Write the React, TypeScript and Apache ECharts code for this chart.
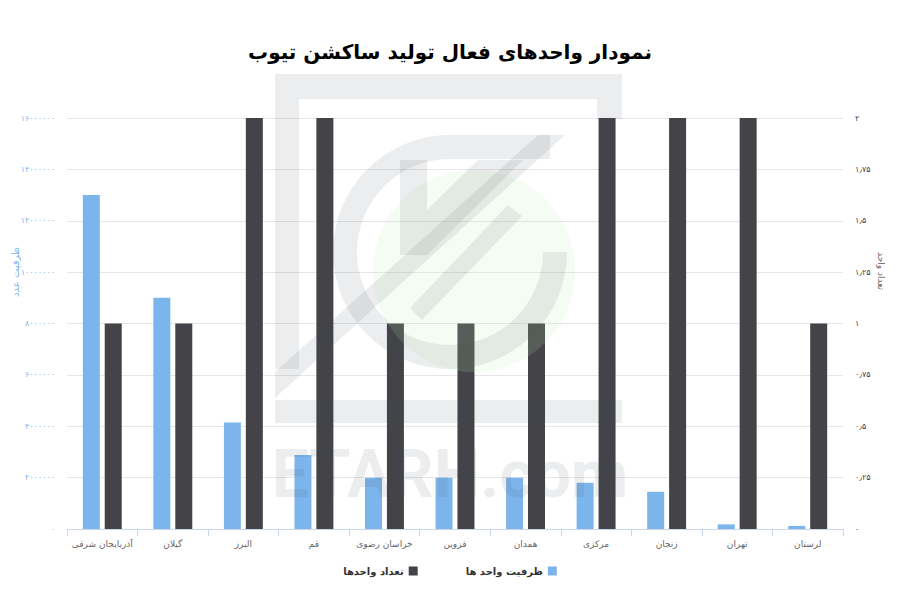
import React, { useEffect, useRef } from "react";
import * as echarts from "echarts";

const categories = [
  "آذربایجان شرقی",
  "گیلان",
  "البرز",
  "قم",
  "خراسان رضوی",
  "قزوین",
  "همدان",
  "مرکزی",
  "زنجان",
  "تهران",
  "لرستان",
];
const capacity = [13000000, 9000000, 4150000, 2880000, 2000000, 2000000, 2000000, 1800000, 1450000, 180000, 120000];
const unitCount = [1, 1, 2, 2, 1, 1, 1, 2, 2, 2, 1];
const seriesNames = ["ظرفیت واحد ها", "تعداد واحدها"];
const titleText = "نمودار واحد\u200cهای فعال تولید ساکشن تیوب";
const leftAxisTitle = "ظرفیت عدد";
const rightAxisTitle = "تعداد واحد";
const watermarkText = "ETARH.com";

const FA_DIGITS = "۰۱۲۳۴۵۶۷۸۹";
const toFa = (v: number) =>
  String(v)
    .replace(/[0-9]/g, (d) => FA_DIGITS[Number(d)])
    .replace(".", "٫");

const FONT = "DejaVu Sans, Noto Sans, sans-serif";
const BLUE = "#7cb5ec";
const DARK = "#434348";
const WM = "rgba(70,75,90,0.10)";

export default function App() {
  const ref = useRef<HTMLDivElement>(null);
  useEffect(() => {
    if (!ref.current) return;
    const chart = echarts.init(ref.current, undefined, { renderer: "svg" });
    const option: any = {
      animation: false,
      backgroundColor: "#ffffff",
      textStyle: { fontFamily: FONT },
      title: {
        text: titleText,
        left: "center",
        top: 37,
        textStyle: { fontFamily: FONT, fontSize: 20, fontWeight: "bold", color: "#000" },
      },
      legend: {
        data: [seriesNames[1], seriesNames[0]],
        bottom: 19,
        left: "center",
        align: "right",
        icon: "rect",
        itemWidth: 9,
        itemHeight: 9,
        itemGap: 48,
        textStyle: { fontFamily: FONT, fontSize: 10, fontWeight: "bold", color: "#333" },
      },
      grid: { left: 67, right: 57, top: 118, bottom: 71, containLabel: false },
      xAxis: {
        type: "category",
        data: categories,
        axisLine: { lineStyle: { color: "#ccd6eb" } },
        axisTick: { show: true, length: 7, lineStyle: { color: "#ccd6eb" } },
        axisLabel: { color: "#666", fontSize: 9, margin: 10, fontFamily: FONT, interval: 0 },
      },
      yAxis: [
        {
          type: "value",
          min: 0,
          max: 16000000,
          interval: 2000000,
          axisLine: { show: false },
          axisTick: { show: false },
          splitLine: { lineStyle: { color: "#e6e6e6" } },
          axisLabel: { color: BLUE, fontSize: 8, margin: 12, fontFamily: FONT, formatter: (v: number) => toFa(v) },
        },
        {
          type: "value",
          min: 0,
          max: 2,
          interval: 0.25,
          position: "right",
          axisLine: { show: false },
          axisTick: { show: false },
          splitLine: { show: false },
          axisLabel: { color: DARK, fontSize: 8, margin: 12, fontFamily: FONT, formatter: (v: number) => toFa(v) },
        },
      ],
      series: [
        {
          name: seriesNames[0],
          type: "bar",
          yAxisIndex: 0,
          data: capacity,
          barWidth: 17,
          barGap: "29%",
          itemStyle: { color: BLUE },
        },
        {
          name: seriesNames[1],
          type: "bar",
          yAxisIndex: 1,
          data: unitCount,
          barWidth: 17,
          barGap: "29%",
          itemStyle: { color: DARK },
        },
      ],
      graphic: [
        {
          type: "text",
          x: 15,
          y: 272,
          rotation: Math.PI / 2,
          style: { text: leftAxisTitle, fill: BLUE, font: `10px ${FONT}`, textAlign: "center", textVerticalAlign: "middle" },
        },
        {
          type: "text",
          x: 881,
          y: 271,
          rotation: -Math.PI / 2,
          style: { text: rightAxisTitle, fill: "#666", font: `9px ${FONT}`, textAlign: "center", textVerticalAlign: "middle" },
        },
        // watermark
        { type: "circle", z: 100, silent: true, shape: { cx: 474, cy: 271, r: 101 }, style: { fill: "rgba(190,235,180,0.16)" } },
        { type: "rect", z: 100, silent: true, shape: { x: 275, y: 74, width: 347, height: 25 }, style: { fill: WM } },
        { type: "rect", z: 100, silent: true, shape: { x: 275, y: 99, width: 24, height: 270 }, style: { fill: WM } },
        { type: "rect", z: 100, silent: true, shape: { x: 597, y: 99, width: 25, height: 20 }, style: { fill: WM } },
        { type: "rect", z: 100, silent: true, shape: { x: 275, y: 400, width: 347, height: 23 }, style: { fill: WM } },
        {
          type: "polygon",
          z: 100,
          silent: true,
          shape: { points: [[275, 372], [538, 135], [565, 135], [275, 398]] },
          style: { fill: WM },
        },
        {
          type: "sector",
          z: 100,
          silent: true,
          shape: { cx: 450, cy: 252, r0: 93, r: 117, startAngle: 0, endAngle: Math.PI * 1.5, clockwise: true },
          style: { fill: WM },
        },
        { type: "rect", z: 100, silent: true, shape: { x: 450, y: 135, width: 100, height: 24 }, style: { fill: WM } },
        { type: "rect", z: 100, silent: true, shape: { x: 400, y: 160, width: 27, height: 95 }, style: { fill: WM } },
        {
          type: "polygon",
          z: 100,
          silent: true,
          shape: { points: [[478, 160], [523, 160], [427, 255], [427, 210]] },
          style: { fill: WM },
        },
        {
          type: "polygon",
          z: 100,
          silent: true,
          shape: { points: [[508, 205], [522, 216], [422, 320], [410, 308]] },
          style: { fill: WM },
        },
        {
          type: "text",
          z: 100,
          silent: true,
          x: 450,
          y: 474,
          style: {
            text: watermarkText,
            fill: WM,
            font: `bold 66px Roboto, sans-serif`,
            textAlign: "center",
            textVerticalAlign: "middle",
          },
        },
      ],
    };
    chart.setOption(option);
    return () => chart.dispose();
  }, []);
  return <div ref={ref} style={{ width: 900, height: 600, margin: -8 }} />;
}
